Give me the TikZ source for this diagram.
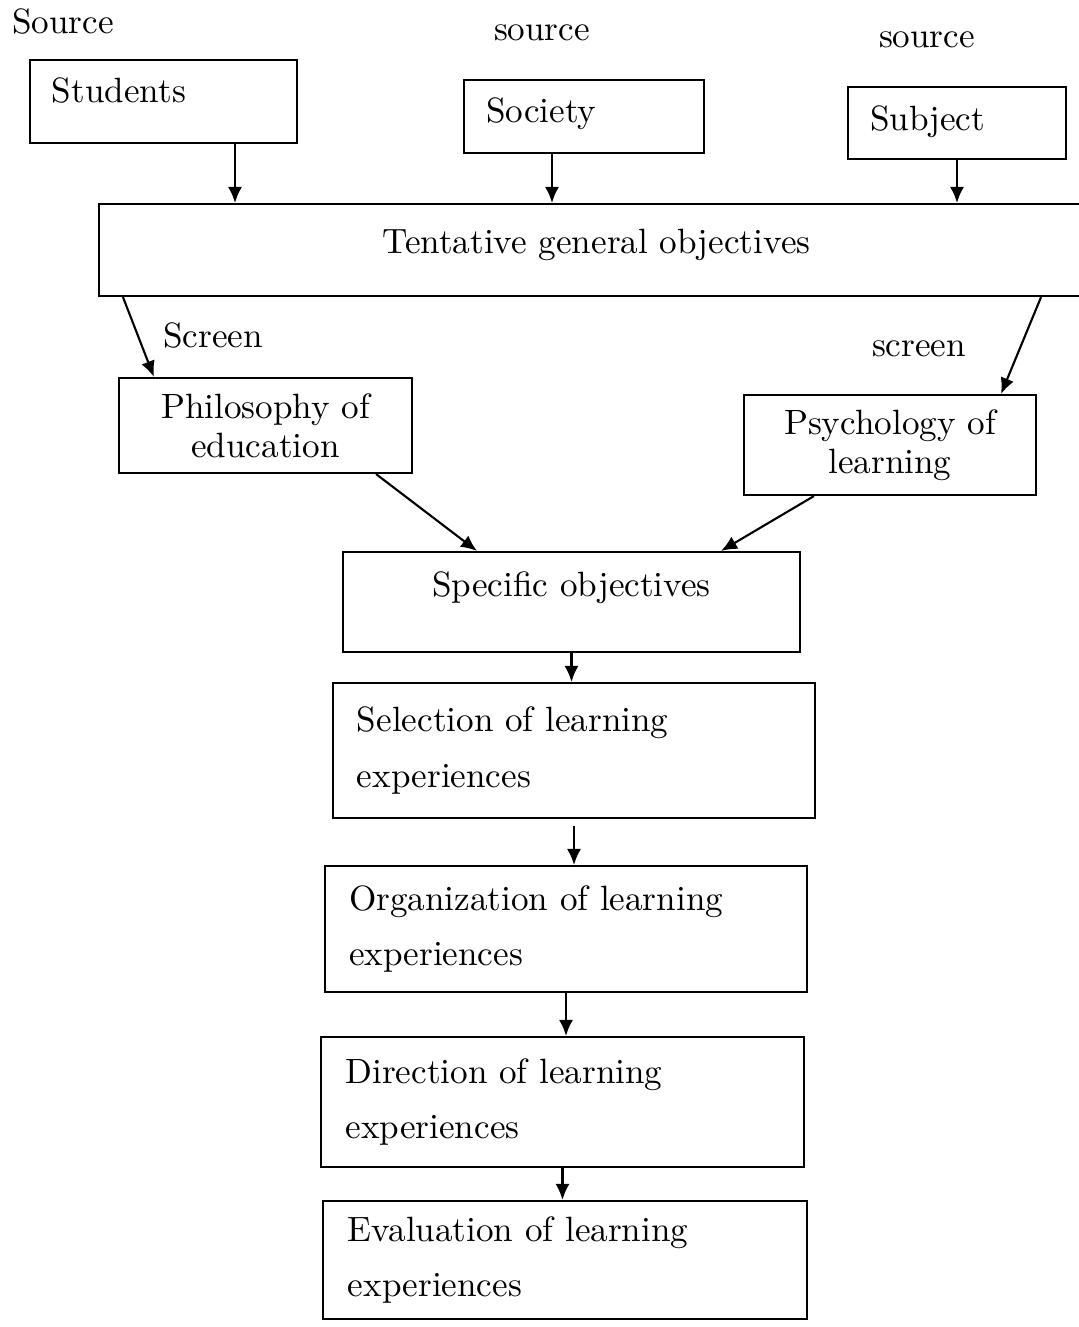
\documentclass[tikz,border=0pt]{standalone}
\usetikzlibrary{arrows.meta}
\tikzset{
box/.style={draw,line width=0.6pt,inner sep=0pt,font=\fontsize{10}{11}\selectfont},
one/.style={box,text height=2.4mm},
two/.style={box,align=left,text width=43.4mm,font=\fontsize{10}{15.9}\selectfont},
lbl/.style={inner sep=0pt,font=\fontsize{10}{11}\selectfont},
arr/.style={line width=0.6pt,-{Latex[length=1.6mm,width=1.4mm]}}
}
\begin{document}
\begin{tikzpicture}[x=1mm,y=-1mm]
\useasboundingbox(0,0)rectangle(107.9,132.7);
\node[lbl](src1)at(6.3,2.1){Source};
\node[lbl](src2)at(54.2,3.3){source};
\node[lbl](src3)at(92.7,4.0){source};
\node[one,minimum width=26.7mm,minimum height=8.3mm,text width=22.3mm,align=left,text depth=2.3mm](students)at(16.35,10.15){Students};
\node[one,minimum width=24mm,minimum height=7.3mm,text width=19.6mm,align=left,text depth=1.3mm](society)at(58.4,11.65){Society};
\node[one,minimum width=21.8mm,minimum height=7.2mm,text width=17.4mm,align=left,text depth=1mm](subject)at(95.7,12.3){Subject};
\node[one,minimum width=99.5mm,minimum height=9.2mm,text depth=1.7mm](tentative)at(59.65,25){Tentative general objectives};
\node[lbl](scr1)at(21.3,33.5){Screen};
\node[lbl](scr2)at(91.9,34.9){screen};
\node[box,align=center,minimum width=29.3mm,minimum height=9.5mm](philosophy)at(26.55,42.55){Philosophy of\\education};
\node[box,align=center,minimum width=29.2mm,minimum height=10mm](psychology)at(89,44.5){Psychology of\\learning};
\node[one,minimum width=45.7mm,minimum height=10mm,text depth=3.5mm](specific)at(57.15,60.2){Specific objectives};
\node[two,minimum width=48.2mm,minimum height=13.5mm](selection)at(57.4,75.05){Selection of learning\\experiences};
\node[two,minimum width=48.2mm,minimum height=12.6mm](organization)at(56.6,92.9){Organization of learning\\experiences};
\node[two,minimum width=48.3mm,minimum height=13mm](direction)at(56.25,110.2){Direction of learning\\experiences};
\node[two,minimum width=48.4mm,minimum height=11.8mm](evaluation)at(56.5,126){Evaluation of learning\\experiences};
\draw[arr]([xshift=7.15mm]students.south)--([xshift=7.15mm]students.south|-tentative.north);
\draw[arr]([xshift=-3.2mm]society.south)--([xshift=-3.2mm]society.south|-tentative.north);
\draw[arr](subject.south)--(subject.south|-tentative.north);
\draw[arr]([xshift=2.5mm]tentative.south west)--([xshift=3.6mm]philosophy.north west);
\draw[arr]([xshift=-5.4mm]tentative.south east)--([xshift=-3.6mm]psychology.north east);
\draw[arr]([xshift=-3.7mm]philosophy.south east)--([xshift=13.5mm]specific.north west);
\draw[arr]([xshift=7.1mm]psychology.south west)--([xshift=-8mm]specific.north east);
\draw[arr](specific.south)--(specific.south|-selection.north);
\draw[arr,shorten <=0.7mm](selection.south)--(selection.south|-organization.north);
\draw[arr](organization.south)--(organization.south|-direction.north);
\draw[arr](direction.south)--(direction.south|-evaluation.north);
\end{tikzpicture}
\end{document}
